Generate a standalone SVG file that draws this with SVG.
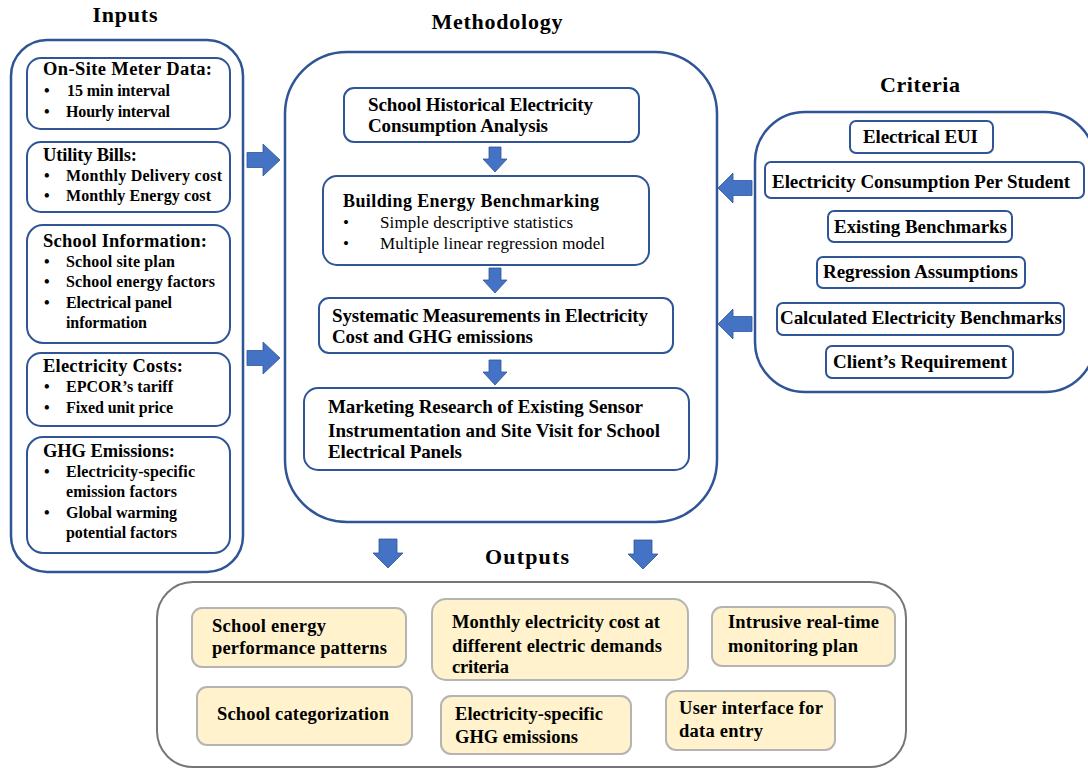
<svg xmlns="http://www.w3.org/2000/svg" width="1088" height="768" viewBox="0 0 1088 768">
<style>
.title{font-size:22px;font-weight:bold;text-anchor:middle}
.hd{font-size:18.5px;font-weight:bold}
.bl{font-size:16px;font-weight:bold}
.t{font-size:19px;font-weight:bold}
.r{font-size:17px}
.c{font-size:19px;font-weight:bold;text-anchor:middle}
.o{font-size:18.5px;font-weight:bold}
.outer{fill:#fff;stroke:#2f5597;stroke-width:2.5}
.inner{fill:#fff;stroke:#2f5597;stroke-width:2}
.obox{fill:#fff;stroke:#767676;stroke-width:2}
.ybox{fill:#fff2cc;stroke:#b4b4b4;stroke-width:2}
.arr{fill:#4472c4;stroke:#2f5597;stroke-width:0.8}
</style>
<defs>
<path id="aR" d="M0,-7.5 H16 V-16 L33,0 L16,16 V7.5 H0 Z"/>
<path id="aL" d="M0,-7.5 H-19 V-15 L-34,0 L-19,15 V7.5 H0 Z"/>
<path id="aDs" d="M-6,0 H6 V12 H12 L0,25 L-12,12 H-6 Z"/>
<path id="aDb" d="M-9,0 H9 V14 H15 L0,29 L-15,14 H-9 Z"/>
</defs>
<g font-family="'Liberation Serif', 'DejaVu Serif', serif" fill="#000">
<text class="title" x="125" y="22" textLength="65">Inputs</text>
<text class="title" x="497" y="29" textLength="131">Methodology</text>
<text class="title" x="920" y="92" textLength="80">Criteria</text>
<text class="title" x="527" y="564" textLength="84">Outputs</text>

<g id="inputs">
<rect class="outer" x="11" y="40" width="232" height="532" rx="36"/>
</g>
<g id="in-meter">
<rect class="inner" x="27" y="58" width="203" height="71" rx="14"/>
<text class="hd" x="43" y="75" textLength="169">On-Site Meter Data:</text>
<text class="bl" x="44" y="96">•</text><text class="bl" x="67" y="96" textLength="103">15 min interval</text>
<text class="bl" x="44" y="117">•</text><text class="bl" x="66" y="117" textLength="104">Hourly interval</text>
</g>
<g id="in-bills">
<rect class="inner" x="27" y="142" width="203" height="70" rx="14"/>
<text class="hd" x="43" y="161" textLength="94">Utility  Bills:</text>
<text class="bl" x="44" y="181">•</text><text class="bl" x="66" y="181" textLength="156">Monthly Delivery cost</text>
<text class="bl" x="44" y="201">•</text><text class="bl" x="66" y="201" textLength="145">Monthly Energy cost</text>
</g>
<g id="in-school">
<rect class="inner" x="27" y="225" width="203" height="118" rx="16"/>
<text class="hd" x="43" y="247" textLength="164">School Information:</text>
<text class="bl" x="44" y="267">•</text><text class="bl" x="66" y="267" textLength="109">School site plan</text>
<text class="bl" x="44" y="287">•</text><text class="bl" x="66" y="287" textLength="149">School energy  factors</text>
<text class="bl" x="44" y="308">•</text><text class="bl" x="66" y="308" textLength="106">Electrical panel</text>
<text class="bl" x="66" y="328" textLength="81">information</text>
</g>
<g id="in-costs">
<rect class="inner" x="27" y="353" width="203" height="73" rx="14"/>
<text class="hd" x="43" y="372" textLength="140">Electricity Costs:</text>
<text class="bl" x="44" y="392">•</text><text class="bl" x="66" y="392" textLength="107">EPCOR’s tariff</text>
<text class="bl" x="44" y="413">•</text><text class="bl" x="66" y="413" textLength="107">Fixed unit price</text>
</g>
<g id="in-ghg">
<rect class="inner" x="27" y="437" width="203" height="116" rx="16"/>
<text class="hd" x="43" y="457" textLength="132">GHG Emissions:</text>
<text class="bl" x="44" y="477">•</text><text class="bl" x="66" y="477" textLength="129">Electricity-specific</text>
<text class="bl" x="66" y="497" textLength="111">emission factors</text>
<text class="bl" x="44" y="518">•</text><text class="bl" x="66" y="518" textLength="111">Global warming</text>
<text class="bl" x="66" y="538" textLength="111">potential factors</text>
</g>

<g id="methodology">
<rect class="outer" x="285" y="52" width="432" height="470" rx="62"/>
</g>
<g id="m-history">
<rect class="inner" x="344" y="88" width="295" height="54" rx="10"/>
<text class="t" x="368" y="111" textLength="225">School Historical Electricity</text>
<text class="t" x="368" y="132" textLength="180">Consumption Analysis</text>
</g>
<g id="m-bench">
<rect class="inner" x="323" y="176" width="326" height="89" rx="14"/>
<text class="t" x="343" y="207" textLength="256" style="font-size:18px">Building Energy Benchmarking</text>
<text class="r" x="343" y="228">•</text><text class="r" x="380" y="228" textLength="193">Simple descriptive statistics</text>
<text class="r" x="343" y="249">•</text><text class="r" x="380" y="249" textLength="225">Multiple linear regression model</text>
</g>
<g id="m-measure">
<rect class="inner" x="319" y="298" width="354" height="55" rx="10"/>
<text class="t" x="332" y="322" textLength="316">Systematic Measurements in Electricity</text>
<text class="t" x="332" y="343" textLength="201">Cost and GHG emissions</text>
</g>
<g id="m-market">
<rect class="inner" x="304" y="388" width="385" height="82" rx="14"/>
<text class="t" x="328" y="413" textLength="315">Marketing Research of Existing Sensor</text>
<text class="t" x="328" y="437" textLength="332">Instrumentation and Site Visit  for School</text>
<text class="t" x="328" y="458" textLength="134">Electrical Panels</text>
</g>

<g id="criteria">
<rect class="outer" x="755" y="112" width="340" height="280" rx="50"/>
</g>
<g id="c-eui"><rect class="inner" x="850" y="121" width="143" height="32" rx="6"/><text class="c" x="920.5" y="143" textLength="115">Electrical EUI</text></g>
<g id="c-student"><rect class="inner" x="765" y="162" width="319" height="36" rx="6"/><text class="c" x="921" y="188" textLength="298">Electricity Consumption Per Student</text></g>
<g id="c-existing"><rect class="inner" x="828" y="211" width="184" height="31" rx="6"/><text class="c" x="920.5" y="233" textLength="173">Existing  Benchmarks</text></g>
<g id="c-regression"><rect class="inner" x="817" y="257" width="208" height="31" rx="6"/><text class="c" x="920.5" y="278" textLength="195">Regression Assumptions</text></g>
<g id="c-calc"><rect class="inner" x="777" y="303" width="287" height="32" rx="6"/><text class="c" x="921" y="324" textLength="282">Calculated Electricity Benchmarks</text></g>
<g id="c-client"><rect class="inner" x="826" y="346" width="187" height="32" rx="6"/><text class="c" x="920" y="368" textLength="174">Client’s Requirement</text></g>

<g id="outputs">
<rect class="obox" x="157" y="582" width="749" height="185" rx="36"/>
</g>
<g id="o-patterns"><rect class="ybox" x="192" y="608" width="214" height="59" rx="10"/>
<text class="o" x="212" y="632" textLength="114">School energy</text><text class="o" x="212" y="654" textLength="175">performance patterns</text></g>
<g id="o-cost"><rect class="ybox" x="432" y="599" width="256" height="81" rx="14"/>
<text class="o" x="452" y="628" textLength="208">Monthly electricity cost at</text><text class="o" x="452" y="652" textLength="210">different electric demands</text><text class="o" x="452" y="673" textLength="57">criteria</text></g>
<g id="o-intrusive"><rect class="ybox" x="712" y="607" width="183" height="59" rx="10"/>
<text class="o" x="728" y="628" textLength="151">Intrusive real-time</text><text class="o" x="728" y="652" textLength="130">monitoring plan</text></g>
<g id="o-categ"><rect class="ybox" x="197" y="687" width="215" height="58" rx="10"/>
<text class="o" x="217" y="720" textLength="172">School categorization</text></g>
<g id="o-ghg"><rect class="ybox" x="441" y="696" width="190" height="58" rx="10"/>
<text class="o" x="455" y="720" textLength="148">Electricity-specific</text><text class="o" x="455" y="743" textLength="123">GHG emissions</text></g>
<g id="o-ui"><rect class="ybox" x="666" y="691" width="169" height="59" rx="10"/>
<text class="o" x="679" y="714" textLength="144">User interface for</text><text class="o" x="679" y="737" textLength="84">data entry</text></g>
</g>
<g id="connectors" class="arr">
<use href="#aR" x="247" y="160"/>
<use href="#aR" x="247" y="358"/>
<use href="#aL" x="752" y="188"/>
<use href="#aL" x="752" y="324"/>
<use href="#aDs" x="495" y="147"/>
<use href="#aDs" x="495" y="268"/>
<use href="#aDs" x="495" y="360"/>
<use href="#aDb" x="388" y="539"/>
<use href="#aDb" x="643" y="540"/>
</g>
</svg>
